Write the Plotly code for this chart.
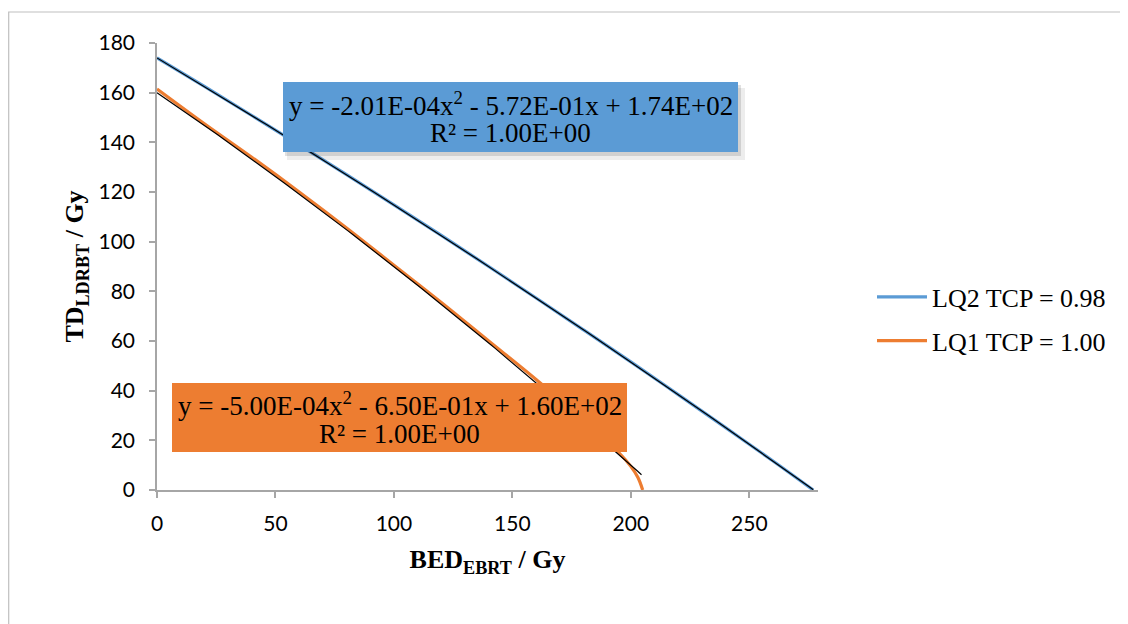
import plotly.graph_objects as go
import numpy as np

# LQ2 TCP = 0.98 series
lq2_x = [0, 20, 40, 60, 80, 100, 120, 140, 160, 180, 200, 220, 240, 260, 277]
lq2_y = [174.0, 162.5, 150.8, 139.0, 127.0, 114.8, 102.5, 90.0, 77.3, 64.5, 51.6, 38.4, 25.1, 11.7, 0.0]

# LQ1 TCP = 1.00 series
lq1_x = [0, 20, 40, 60, 80, 100, 120, 140, 160, 180, 195, 200, 203, 205]
lq1_y = [161.5, 147.5, 134.0, 120.0, 105.5, 90.5, 75.5, 60.0, 44.5, 28.0, 15.0, 9.5, 5.0, 0.0]

# Polynomial trendline coefficients shown on the chart (a2, a1, a0)
lq2_trend = [-2.01e-04, -5.72e-01, 1.74e+02]
lq1_trend = [-5.00e-04, -6.50e-01, 1.60e+02]

lq2_eq = ["y = -2.01E-04x<sup>2</sup> - 5.72E-01x + 1.74E+02", "R² = 1.00E+00"]
lq1_eq = ["y = -5.00E-04x<sup>2</sup> - 6.50E-01x + 1.60E+02", "R² = 1.00E+00"]

x_ticks = [0, 50, 100, 150, 200, 250]
y_ticks = [0, 20, 40, 60, 80, 100, 120, 140, 160, 180]

blue = "#5B9BD5"
orange = "#ED7D31"
serif = "Liberation Serif, Times New Roman, serif"
sans = "Lato, Carlito, Liberation Sans, sans-serif"

# plot area in page pixels (page has 8px body margin)
PX0, PX1, PY0, PY1 = 157, 818, 43, 490


def px(x):
    return (x - PX0) / (PX1 - PX0)


def py(y):
    return (PY1 - y) / (PY1 - PY0)


fig = go.Figure()
fig.add_trace(go.Scatter(x=lq2_x, y=lq2_y, mode="lines", name="LQ2 TCP = 0.98",
                         line=dict(color=blue, width=3.2, shape="spline"),
                         legendgroup="a"))
fig.add_trace(go.Scatter(x=lq1_x, y=lq1_y, mode="lines", name="LQ1 TCP = 1.00",
                         line=dict(color=orange, width=3.2, shape="spline"),
                         legendgroup="b"))

t2x = np.linspace(0, max(lq2_x), 120)
t1x = np.linspace(0, 204.5, 120)
fig.add_trace(go.Scatter(x=t2x, y=np.polyval(lq2_trend, t2x), mode="lines",
                         line=dict(color="black", width=1.2), showlegend=False, hoverinfo="skip"))
fig.add_trace(go.Scatter(x=t1x, y=np.polyval(lq1_trend, t1x), mode="lines",
                         line=dict(color="black", width=1.2), showlegend=False, hoverinfo="skip"))

axis_common = dict(showgrid=False, zeroline=False, showline=True, linecolor="#A6A6A6",
                   linewidth=1.5, ticks="outside", tickcolor="#A6A6A6", ticklen=6, tickwidth=1.5,
                   tickfont=dict(family=sans, size=21, color="black"))

fig.update_xaxes(range=[0, 279], tickvals=x_ticks, ticklabelstandoff=8, **axis_common,
                 title=dict(text="<b>BED<sub>EBRT</sub> / Gy</b>",
                            font=dict(family=serif, size=26, color="black"), standoff=16))
fig.update_yaxes(range=[0, 180], tickvals=y_ticks, ticklabelstandoff=10, **axis_common,
                 title=dict(text="<b>TD<sub>LDRBT</sub> / Gy</b>",
                            font=dict(family=serif, size=26, color="black"), standoff=7))

# soft shadow behind blue label
fig.add_shape(type="rect", xref="paper", yref="paper",
              x0=px(287), x1=px(745), y0=py(160), y1=py(88),
              fillcolor="rgba(0,0,0,0.07)", line=dict(width=0), layer="above")
fig.add_shape(type="rect", xref="paper", yref="paper",
              x0=px(285), x1=px(741), y0=py(156), y1=py(85),
              fillcolor="rgba(0,0,0,0.12)", line=dict(width=0), layer="above")
# label boxes
fig.add_shape(type="rect", xref="paper", yref="paper",
              x0=px(283), x1=px(738), y0=py(152), y1=py(82),
              fillcolor=blue, line=dict(width=0), layer="above")
fig.add_shape(type="rect", xref="paper", yref="paper",
              x0=px(172), x1=px(627), y0=py(452), y1=py(383),
              fillcolor=orange, line=dict(width=0), layer="above")
# outer chart border
fig.add_shape(type="rect", xref="paper", yref="paper",
              x0=px(8.7), x1=px(1140), y0=py(640), y1=py(12),
              line=dict(color="#BFBFBF", width=1.2), fillcolor="rgba(0,0,0,0)")

for lines, cx, ys in [(lq2_eq, 510.5, [104, 133]), (lq1_eq, 399.5, [404, 434])]:
    for txt, yy in zip(lines, ys):
        fig.add_annotation(text=txt, xref="paper", yref="paper",
                           x=px(cx), y=py(yy), xanchor="center", yanchor="middle",
                           showarrow=False, font=dict(family=serif, size=27, color="black"))

fig.update_layout(width=1120, height=616,
                  margin=dict(l=PX0 - 8, r=1120 - (PX1 - 8), t=PY0 - 8, b=616 - (PY1 - 8)),
                  paper_bgcolor="white", plot_bgcolor="white",
                  legend=dict(x=px(872), y=py(319), xanchor="left", yanchor="middle",
                              font=dict(family=serif, size=26, color="black"),
                              traceorder="grouped", tracegroupgap=7, itemwidth=50),
                  showlegend=True)

fig.write_html("out.html")
